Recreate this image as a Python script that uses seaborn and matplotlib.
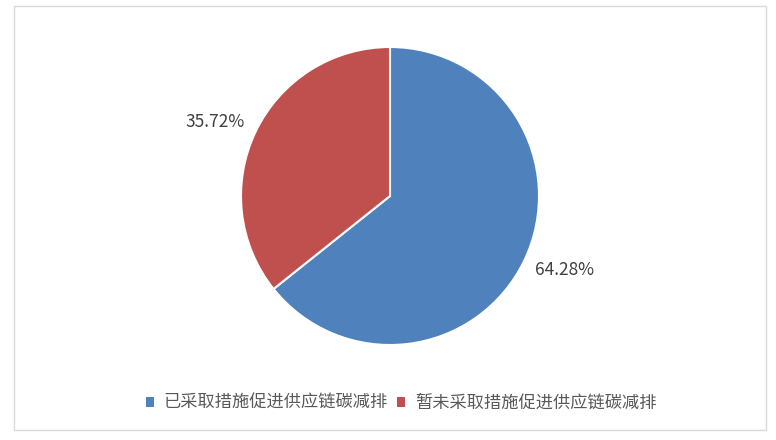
import matplotlib
matplotlib.use("Agg")
import matplotlib.pyplot as plt
import seaborn as sns
from matplotlib.patches import Rectangle

categories = ["已采取措施促进供应链碳减排", "暂未采取措施促进供应链碳减排"]
values = [64.28, 35.72]
colors = ["#4F81BD", "#C0504D"]
label_pos = [(1.171, -0.497), (-1.174, 0.497)]

sns.set_theme(style="white")
plt.rcParams['font.family'] = ['Noto Sans CJK SC', 'DejaVu Sans']

W, H = 776, 440
fig = plt.figure(figsize=(W / 100, H / 100), dpi=100)
fig.patch.set_facecolor("white")

# outer border
fig.add_artist(Rectangle((14 / W, 1 - 430 / H), (766 - 14) / W, (430 - 6) / H,
                         transform=fig.transFigure, fill=False,
                         edgecolor="#D9D9D9", linewidth=1))

cx, cy, r = 390, 196, 149
ax = fig.add_axes([(cx - r) / W, 1 - (cy + r) / H, 2 * r / W, 2 * r / H])
wedges, texts = ax.pie(values, colors=colors, startangle=90, counterclock=False,
                       labels=[f"{v:.2f}%" for v in values], labeldistance=1.27,
                       wedgeprops=dict(edgecolor="white", linewidth=1.5),
                       textprops=dict(fontsize=12.5, color="#404040"))
for t, p in zip(texts, label_pos):
    t.set_position(p)
    t.set_ha("center")
    t.set_va("center")
ax.set_xlim(-1, 1)
ax.set_ylim(-1, 1)
ax.set_aspect("equal")
ax.axis("off")

handles = [Rectangle((0, 0), 1, 1, facecolor=c, edgecolor="none") for c in colors]
fig.legend(handles, categories, loc="center", bbox_to_anchor=(401 / W, 1 - 403 / H),
           ncol=2, frameon=False, fontsize=12.4, labelcolor="#595959",
           handlelength=0.5, handleheight=0.5, handletextpad=0.55, columnspacing=0.5)

fig.savefig("out.png", dpi=100, facecolor="white")
